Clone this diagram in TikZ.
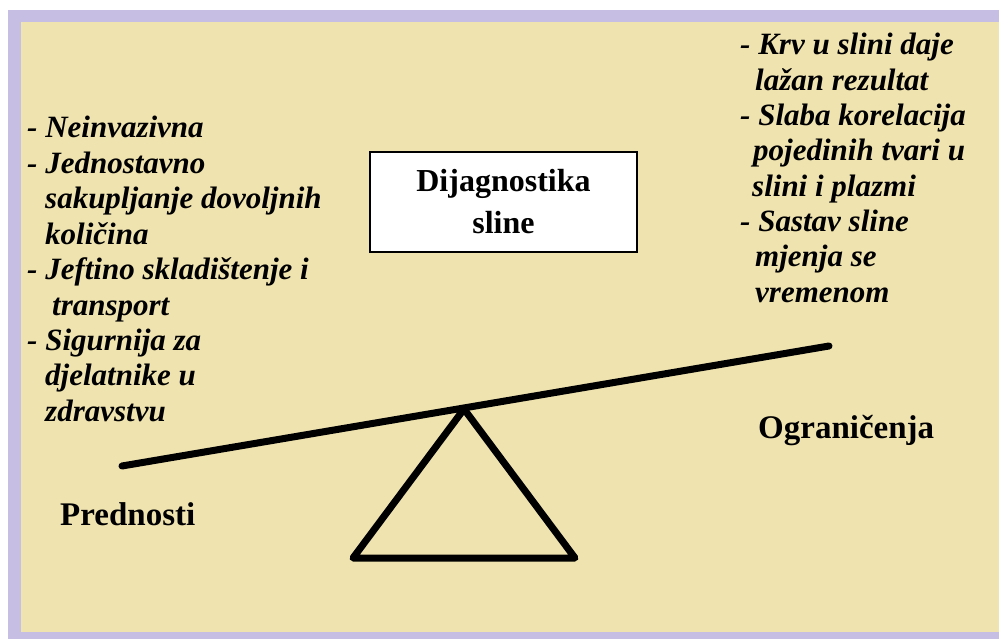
\documentclass[tikz,border=0pt]{standalone}
\usepackage{xcolor}
\usepackage{fontspec}
\setmainfont{Liberation Serif}
\usepackage{tikz}
\usetikzlibrary{positioning}
\definecolor{panelbeige}{RGB}{239,227,176}
\definecolor{framelilac}{RGB}{199,190,228}
\tikzset{
pro con/.style = { anchor = base west, inner sep = 0pt, font = \fontsize{31}{35}\selectfont\bfseries\itshape },
side label/.style = { anchor = base west, inner sep = 0pt, font = \fontsize{33}{38}\selectfont\bfseries },
title box/.style = { rectangle, draw = black, line width = 1.2pt, fill = white, minimum width = 267pt, minimum height = 100pt, align = center, font = \fontsize{32}{42}\selectfont\bfseries },
seesaw/.style = { line width = 7pt, line cap = round, line join = round },
}

\begin{document}
\begin{tikzpicture}[x = 1pt, y = -1pt]
    \useasboundingbox (0, 0) rectangle (999, 639);
    \fill[framelilac] (8, 10) rectangle (999, 639);
    \fill[panelbeige] (21, 22) rectangle (999, 632);
    \node[title box] (title) at (503.5, 202) {Dijagnostika\\sline};
    % prednosti
    \node[pro con] (p1) at (27, 138) {- Neinvazivna};
    \node[pro con] (p2) at (27, 173.4) {- Jednostavno};
    \node[pro con] (p2b) at (45, 208.8) {sakupljanje dovoljnih};
    \node[pro con] (p2c) at (45, 244.2) {količina};
    \node[pro con] (p3) at (27, 279.6) {- Jeftino skladištenje i};
    \node[pro con] (p3b) at (52, 315) {transport};
    \node[pro con] (p4) at (27, 350.4) {- Sigurnija za};
    \node[pro con] (p4b) at (45, 385.8) {djelatnike u};
    \node[pro con] (p4c) at (45, 421.2) {zdravstvu};
    % ogranicenja
    \node[pro con] (c1) at (740, 55) {- Krv u slini daje};
    \node[pro con] (c1b) at (755, 90.3) {lažan rezultat};
    \node[pro con] (c2) at (740, 125.6) {- Slaba korelacija};
    \node[pro con] (c2b) at (753, 160.9) {pojedinih tvari u};
    \node[pro con] (c2c) at (752, 196.2) {slini i plazmi};
    \node[pro con] (c3) at (740, 231.5) {- Sastav sline};
    \node[pro con] (c3b) at (755, 266.8) {mjenja se};
    \node[pro con] (c3c) at (755, 302.1) {vremenom};
    \node[side label] (pred) at (60, 525) {Prednosti};
    \node[side label] (ogr) at (758, 438) {Ograničenja};
    % vaga
    \coordinate (beam left) at (122, 466);
    \coordinate (beam right) at (829, 346);
    \coordinate (apex) at (464, 409);
    \coordinate (foot left) at (353, 558);
    \coordinate (foot right) at (575, 558);
    \draw[seesaw] (beam left) -- (beam right);
    \draw[seesaw] (apex) -- (foot left) -- (foot right) -- cycle;
  \end{tikzpicture}
\end{document}
